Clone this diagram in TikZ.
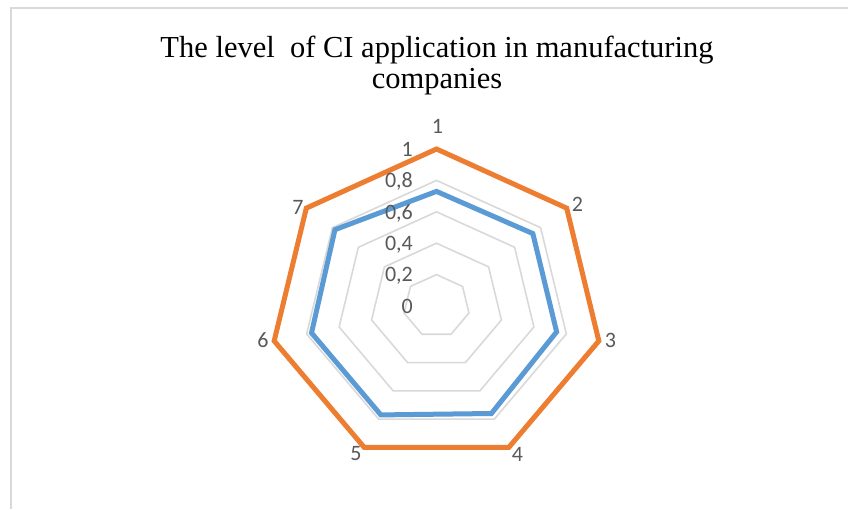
\documentclass[tikz,border=0pt]{standalone}
\usepackage{fontspec}
\setmainfont{Liberation Serif}
\newfontfamily\labfont{Carlito}
\definecolor{gridgray}{RGB}{217,217,217}
\definecolor{orangeS}{RGB}{237,125,49}
\definecolor{blueS}{RGB}{91,155,213}
\definecolor{labgray}{RGB}{89,89,89}
\begin{document}
\begin{tikzpicture}[x=1pt,y=-1pt,
  gridline/.style={draw=gridgray,line width=1.6pt,line join=miter},
  serieso/.style={draw=orangeS,line width=5pt,line join=miter},
  seriesb/.style={draw=blueS,line width=5pt,line join=miter},
  frameline/.style={draw=gridgray,line width=2pt},
  lab/.style={font=\labfont\fontsize{22}{22}\selectfont,text=labgray,inner sep=0pt,text depth=0pt},
  ttl/.style={font=\fontsize{30.5}{33}\selectfont,inner sep=0pt,anchor=base}]
\useasboundingbox (0,0) rectangle (848,509);
\fill[white] (0,0) rectangle (848,509);
\draw[frameline] (10.5,509) -- (10.5,8) -- (848,8);
\def\cx{436.5}\def\cy{306}\def\rx{166.5}\def\ry{157}
% grid rings
\foreach \v in {0.2,0.4,0.6,0.8,1.0}{
  \draw[gridline] ({\cx},{\cy-\v*\ry})
    \foreach \k in {1,...,6}{ -- ({\cx+\v*\rx*cos(90-\k*360/7)},{\cy-\v*\ry*sin(90-\k*360/7)}) } -- cycle;
}
% series coordinates
\foreach \val [count=\k] in {0.73,0.74,0.74,0.76,0.77,0.77,0.78}{
  \coordinate (b\k) at ({\cx+\val*\rx*cos(90-(\k-1)*360/7)},{\cy-\val*\ry*sin(90-(\k-1)*360/7)});
}
\foreach \k in {1,...,7}{
  \coordinate (o\k) at ({\cx+\rx*cos(90-(\k-1)*360/7)},{\cy-\ry*sin(90-(\k-1)*360/7)});
}
\draw[seriesb] (b1) -- (b2) -- (b3) -- (b4) -- (b5) -- (b6) -- (b7) -- cycle;
\draw[serieso] (o1) -- (o2) -- (o3) -- (o4) -- (o5) -- (o6) -- (o7) -- cycle;
% value axis labels
\node[lab,anchor=east] (v0) at (413,306.5) {0};
\node[lab,anchor=east] (v2) at (413,274.6) {0,2};
\node[lab,anchor=east] (v4) at (413,243.2) {0,4};
\node[lab,anchor=east] (v6) at (413,211.8) {0,6};
\node[lab,anchor=east] (v8) at (413,180.4) {0,8};
\node[lab,anchor=east] (v10) at (413,149) {1};
% category labels
\node[lab] (c1) at (437.5,126) {1};
\node[lab] (c2) at (577.5,204) {2};
\node[lab] (c3) at (610.5,340.5) {3};
\node[lab] (c4) at (517.5,454.5) {4};
\node[lab] (c5) at (356,453.5) {5};
\node[lab] (c6) at (263,340.5) {6};
\node[lab] (c7) at (298,207) {7};
% title
\node[ttl] (t1) at (437,57.5) {The level~ of CI application in manufacturing};
\node[ttl] (t2) at (437,88.5) {companies};
\end{tikzpicture}
\end{document}
